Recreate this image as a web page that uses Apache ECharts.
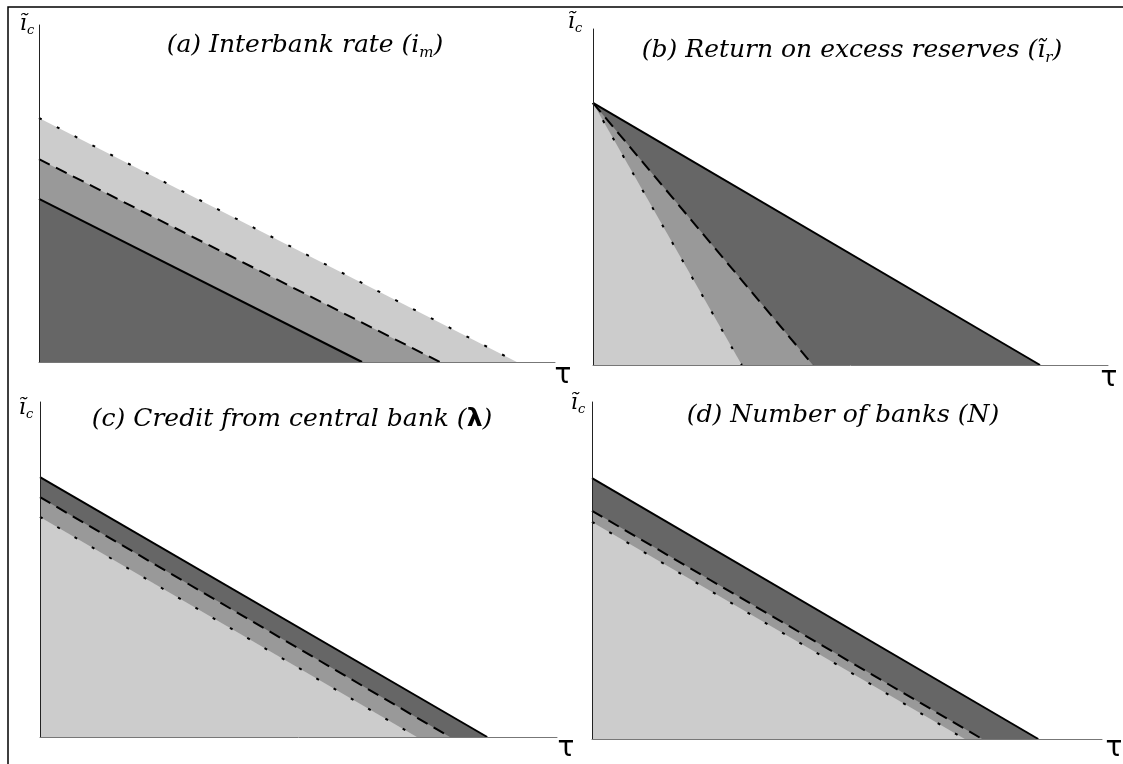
<!DOCTYPE html>
<html>
<head>
<meta charset="utf-8">
<style>
  html, body { margin: 0; padding: 0; background: #fff; }
  #chart { width: 1123px; height: 764px; }
</style>
<script src="https://cdn.jsdelivr.net/npm/echarts@6/dist/echarts.min.js"></script>
</head>
<body>
<div id="chart"></div>
<script>
// boundary lines, each given by its two ends on the axes: [tau, i_c]
// (a) interbank rate
const aDotted = [[0, 7.24], [9.26, 0]];
const aDashed = [[0, 6.02], [7.77, 0]];
const aSolid = [[0, 4.84], [6.26, 0]];
// (b) return on excess reserves
const bSolid = [[0, 7.80], [8.68, 0]];
const bDashed = [[0, 7.80], [4.27, 0]];
const bDotted = [[0, 7.80], [2.89, 0]];
// (c) credit from central bank
const cSolid = [[0, 7.76], [8.65, 0]];
const cDashed = [[0, 7.16], [7.93, 0]];
const cDotted = [[0, 6.57], [7.29, 0]];
// (d) number of banks
const dSolid = [[0, 7.74], [8.75, 0]];
const dDashed = [[0, 6.77], [7.65, 0]];
const dDotted = [[0, 6.44], [7.31, 0]];

const axisMax = [10, 10];

const dark = '#666666';
const mid = '#999999';
const light = '#cccccc';

const chart = echarts.init(document.getElementById('chart'));

const grids = [
  { left: 39, top: 25, width: 516, height: 337 },
  { left: 593, top: 29, width: 515, height: 336 },
  { left: 40, top: 402, width: 517, height: 335 },
  { left: 592, top: 402, width: 510, height: 337 }
];

function axis(i, color) {
  return {
    type: 'value',
    gridIndex: i,
    min: 0,
    max: axisMax[0],
    z: 5,
    axisLine: { show: true, lineStyle: { color: color, width: 1 } },
    axisTick: { show: false },
    axisLabel: { show: false },
    splitLine: { show: false }
  };
}

// 线型: 实线 / 虚线 / 点线
const dashes = { solid: 'solid', dashed: [12, 7], dotted: [3, 17] };

function boundary(i, data, kind, fill) {
  return {
    type: 'line',
    xAxisIndex: i,
    yAxisIndex: i,
    data: data,
    showSymbol: false,
    silent: true,
    lineStyle: { color: '#000', width: 2, type: dashes[kind] },
    areaStyle: { color: fill, opacity: 1, origin: 'start' }
  };
}

const series = [
  boundary(0, aDotted, 'dotted', light),
  boundary(0, aDashed, 'dashed', mid),
  boundary(0, aSolid, 'solid', dark),
  boundary(1, bSolid, 'solid', dark),
  boundary(1, bDashed, 'dashed', mid),
  boundary(1, bDotted, 'dotted', light),
  boundary(2, cSolid, 'solid', dark),
  boundary(2, cDashed, 'dashed', mid),
  boundary(2, cDotted, 'dotted', light),
  boundary(3, dSolid, 'solid', dark),
  boundary(3, dDashed, 'dashed', mid),
  boundary(3, dDotted, 'dotted', light)
];

const serif = '"DejaVu Serif", serif';
const rich = {
  t: { fontFamily: serif, fontStyle: 'italic', fontSize: 25, lineHeight: 32, fill: '#000' },
  sub: { fontFamily: serif, fontStyle: 'italic', fontSize: 15, verticalAlign: 'bottom', fill: '#000' },
  lam: { fontFamily: '"DejaVu Sans", sans-serif', fontWeight: 'bold', fontSize: 25, lineHeight: 32, fill: '#000' }
};

const titles = [
  { x: 305, y: 45, text: '{t|(a) Interbank rate (i}{sub|m}{t|)}' },
  { x: 852, y: 50, text: '{t|(b) Return on excess reserves (ĩ}{sub|r}{t|)}' },
  { x: 292, y: 419, text: '{t|(c) Credit from central bank (}{lam|λ}{t|)}' },
  { x: 843, y: 415, text: '{t|(d) Number of banks (N)}' }
];
const icLabels = [[27, 24], [575, 22], [26, 408], [578, 403]];
const tauLabels = [[563, 376], [1109, 379], [566, 749], [1114, 749]];

const graphic = [
  {
    type: 'polyline',
    shape: { points: [[8, 764], [8, 7], [1123, 7]] },
    style: { stroke: '#000', lineWidth: 1.5, fill: null }
  }
];
titles.forEach((t) => {
  graphic.push({
    type: 'text', x: t.x, y: t.y, z: 10,
    style: { text: t.text, align: 'center', verticalAlign: 'middle', rich: rich }
  });
});
icLabels.forEach((p) => {
  graphic.push({
    type: 'text', x: p[0], y: p[1], z: 10,
    style: {
      text: '{i|ĩ}{s|c}', align: 'center', verticalAlign: 'middle',
      rich: {
        i: { fontFamily: serif, fontStyle: 'italic', fontSize: 22, lineHeight: 26, fill: '#000' },
        s: { fontFamily: serif, fontStyle: 'italic', fontSize: 13, verticalAlign: 'bottom', fill: '#000' }
      }
    }
  });
});
tauLabels.forEach((p) => {
  graphic.push({
    type: 'text', x: p[0], y: p[1], z: 10,
    style: {
      text: 'τ', align: 'center', verticalAlign: 'middle',
      fontFamily: '"DejaVu Sans", sans-serif', fontSize: 28, fill: '#000'
    }
  });
});

chart.setOption({
  animation: false,
  backgroundColor: '#fff',
  grid: grids,
  xAxis: [0, 1, 2, 3].map((i) => axis(i, '#777')),
  yAxis: [0, 1, 2, 3].map((i) => axis(i, '#222')),
  series: series,
  graphic: graphic
});
</script>
</body>
</html>
